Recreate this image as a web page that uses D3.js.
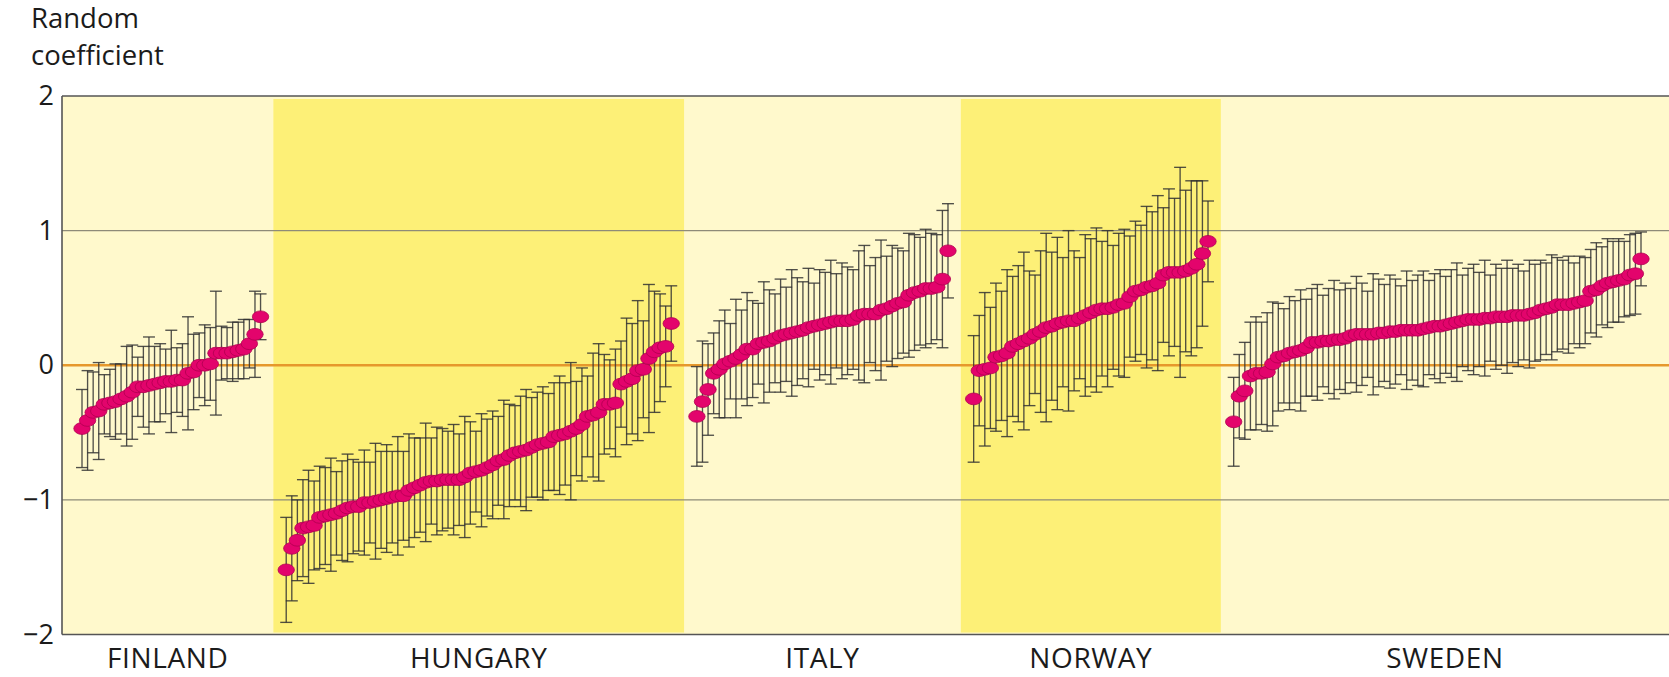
<!DOCTYPE html>
<html>
<head>
<meta charset="utf-8">
<script src="https://cdn.jsdelivr.net/npm/d3@7"></script>
<style>
  body { margin: 0; background: #ffffff; }
  svg { display: block; }
  text { font-family: "Open Sans", "Noto Sans", sans-serif; fill: #1b1b1b; }
</style>
</head>
<body>
<svg id="chart" width="1669" height="677"></svg>
<script>
// ---- data: estimated random coefficients and half-width of their intervals, sorted per country
const countries = ["FINLAND", "HUNGARY", "ITALY", "NORWAY", "SWEDEN"];

const finlandEst = [-0.47,-0.41,-0.35,-0.34,-0.29,-0.28,-0.27,-0.25,-0.23,-0.20,-0.16,-0.16,-0.15,-0.14,-0.13,-0.12,-0.12,-0.11,-0.11,-0.06,-0.05,0.00,0.00,0.01,0.09,0.09,0.09,0.10,0.11,0.12,0.16,0.23,0.36];
const finlandHw  = [0.29,0.37,0.30,0.36,0.22,0.25,0.28,0.26,0.37,0.35,0.22,0.30,0.36,0.28,0.29,0.24,0.38,0.24,0.27,0.42,0.28,0.24,0.30,0.27,0.46,0.20,0.19,0.22,0.21,0.22,0.18,0.32,0.17];

const hungaryEst = [-1.52,-1.36,-1.30,-1.21,-1.20,-1.19,-1.13,-1.12,-1.11,-1.10,-1.08,-1.06,-1.05,-1.05,-1.02,-1.02,-1.01,-1.00,-0.99,-0.98,-0.97,-0.97,-0.93,-0.91,-0.89,-0.87,-0.86,-0.86,-0.85,-0.85,-0.85,-0.85,-0.83,-0.80,-0.79,-0.78,-0.76,-0.74,-0.71,-0.70,-0.67,-0.65,-0.64,-0.63,-0.61,-0.59,-0.58,-0.57,-0.53,-0.52,-0.51,-0.49,-0.47,-0.44,-0.38,-0.37,-0.35,-0.29,-0.29,-0.28,-0.14,-0.12,-0.10,-0.04,-0.03,0.05,0.10,0.13,0.14,0.31];
const hungaryHw  = [0.39,0.39,0.30,0.36,0.42,0.33,0.38,0.36,0.42,0.31,0.37,0.40,0.35,0.33,0.39,0.30,0.43,0.36,0.40,0.34,0.44,0.33,0.42,0.37,0.35,0.44,0.32,0.40,0.38,0.36,0.41,0.34,0.45,0.38,0.30,0.42,0.36,0.40,0.33,0.44,0.38,0.35,0.41,0.45,0.37,0.39,0.42,0.36,0.40,0.44,0.38,0.51,0.35,0.42,0.30,0.46,0.51,0.37,0.33,0.40,0.32,0.47,0.41,0.52,0.36,0.55,0.45,0.40,0.30,0.28];

const italyEst = [-0.38,-0.27,-0.18,-0.06,-0.03,0.01,0.03,0.05,0.08,0.12,0.12,0.16,0.17,0.18,0.20,0.22,0.23,0.24,0.25,0.26,0.28,0.29,0.30,0.31,0.32,0.33,0.33,0.33,0.34,0.37,0.38,0.38,0.38,0.41,0.42,0.44,0.46,0.47,0.52,0.54,0.55,0.57,0.57,0.58,0.64,0.85];
const italyHw  = [0.37,0.45,0.34,0.30,0.36,0.40,0.28,0.44,0.33,0.42,0.36,0.30,0.45,0.38,0.33,0.42,0.35,0.47,0.40,0.36,0.44,0.32,0.41,0.38,0.46,0.35,0.43,0.40,0.37,0.48,0.51,0.36,0.42,0.52,0.39,0.45,0.41,0.38,0.46,0.43,0.40,0.44,0.41,0.39,0.51,0.35];

const norwayEst = [-0.25,-0.04,-0.03,-0.02,0.06,0.07,0.09,0.14,0.16,0.18,0.20,0.23,0.25,0.28,0.29,0.31,0.32,0.33,0.33,0.35,0.37,0.39,0.41,0.42,0.42,0.43,0.45,0.46,0.51,0.55,0.56,0.58,0.59,0.61,0.67,0.69,0.69,0.69,0.70,0.72,0.75,0.83,0.92];
const norwayHw  = [0.47,0.41,0.57,0.45,0.55,0.48,0.62,0.52,0.58,0.66,0.50,0.44,0.60,0.70,0.55,0.64,0.48,0.67,0.52,0.45,0.60,0.55,0.61,0.50,0.58,0.46,0.53,0.55,0.45,0.52,0.48,0.60,0.55,0.65,0.50,0.62,0.55,0.78,0.60,0.65,0.62,0.54,0.30];

const swedenEst = [-0.42,-0.23,-0.19,-0.08,-0.06,-0.06,-0.05,0.01,0.06,0.07,0.09,0.10,0.11,0.13,0.17,0.17,0.18,0.18,0.19,0.19,0.20,0.22,0.23,0.23,0.23,0.23,0.24,0.24,0.25,0.25,0.26,0.26,0.26,0.26,0.27,0.28,0.29,0.29,
                   0.30,0.31,0.32,0.33,0.34,0.34,0.34,0.35,0.35,0.36,0.36,0.36,0.37,0.37,0.37,0.38,0.39,0.41,0.42,0.43,0.45,0.45,0.45,0.46,0.47,0.48,
                   0.55,0.56,0.59,0.61,0.62,0.63,0.64,0.67,0.68,0.79];
const swedenHw  = [0.33,0.31,0.36,0.40,0.42,0.38,0.44,0.46,0.40,0.35,0.42,0.38,0.45,0.36,0.40,0.43,0.34,0.39,0.44,0.37,0.41,0.35,0.43,0.38,0.32,0.45,0.40,0.36,0.42,0.39,0.33,0.44,0.37,0.41,0.43,0.35,0.39,0.42,0.36,0.40,0.44,0.34,0.38,0.41,0.35,0.43,0.32,0.39,0.36,0.42,0.35,0.38,0.33,0.40,0.36,0.37,0.34,0.39,0.35,0.33,0.36,0.30,0.34,0.32,0.31,0.35,0.29,0.33,0.30,0.31,0.28,0.30,0.30,0.20];

const yTicks = [-2, -1, 0, 1, 2];
const yGrid = [-1, 1];
const yTitle = ["Random", "coefficient"];

// ---- layout
const W = 1669, H = 677;
const plot = { left: 62, right: 1669, top: 96, bottom: 634.5 };
const firstX = 82, lastX = 1641;      // centre of the first and last unit
const gapSlots = 4.6;                  // empty unit slots between two countries

const colors = {
  bandLight: "#fff9cc",
  bandBright: "#fdf077",
  grid: "#8e8b78",
  zero: "#e6982c",
  frame: "#555555",
  bar: "#333333",
  dot: "#e3046c",
  dotStroke: "#b0004f"
};

const estimates = [finlandEst, hungaryEst, italyEst, norwayEst, swedenEst];
const halfWidths = [finlandHw, hungaryHw, italyHw, norwayHw, swedenHw];

// slot offset of the first unit of every country
let offset = 0;
const groups = countries.map((name, i) => {
  const n = estimates[i].length;
  const g = { name, index: i, start: offset, n,
    units: estimates[i].map((v, j) => ({ slot: offset + j, est: v, hw: halfWidths[i][j] })) };
  offset += n - 1 + gapSlots;
  return g;
});
const lastSlot = groups[groups.length - 1].start + groups[groups.length - 1].n - 1;

const x = d3.scaleLinear().domain([0, lastSlot]).range([firstX, lastX]);
const y = d3.scaleLinear().domain([-2, 2]).range([plot.bottom, plot.top]);

groups.forEach((g, i) => {
  g.x0 = i === 0 ? plot.left : x(g.start - gapSlots / 2);
  g.x1 = i === groups.length - 1 ? plot.right : x(g.start + g.n - 1 + gapSlots / 2);
});

const svg = d3.select("#chart");

// plot background and country bands
svg.append("rect")
  .attr("x", plot.left).attr("y", plot.top)
  .attr("width", plot.right - plot.left).attr("height", plot.bottom - plot.top)
  .attr("fill", colors.bandLight);

svg.append("g").selectAll("rect")
  .data(groups.filter(g => g.index % 2 === 1))
  .join("rect")
  .attr("x", g => g.x0).attr("width", g => g.x1 - g.x0)
  .attr("y", plot.top + 3).attr("height", plot.bottom - plot.top - 5)
  .attr("fill", colors.bandBright);

// grid lines at +-1 and the zero reference
svg.append("g").selectAll("line")
  .data(yGrid)
  .join("line")
  .attr("x1", plot.left).attr("x2", plot.right)
  .attr("y1", d => y(d)).attr("y2", d => y(d))
  .attr("stroke", colors.grid).attr("stroke-width", 1.2);

svg.append("line")
  .attr("x1", plot.left).attr("x2", plot.right)
  .attr("y1", y(0)).attr("y2", y(0))
  .attr("stroke", colors.zero).attr("stroke-width", 2.4);

// frame: left, top and bottom edges
const frame = svg.append("g").attr("stroke", colors.frame).attr("stroke-width", 1.6);
frame.append("line").attr("x1", plot.left).attr("x2", plot.left).attr("y1", plot.top).attr("y2", plot.bottom);
frame.append("line").attr("x1", plot.left).attr("x2", plot.right).attr("y1", plot.top).attr("y2", plot.top);
frame.append("line").attr("x1", plot.left).attr("x2", plot.right).attr("y1", plot.bottom).attr("y2", plot.bottom);

// y axis labels
const yAxis = d3.axisLeft(y)
  .tickValues(yTicks)
  .tickSize(0)
  .tickPadding(8)
  .tickFormat(d => d < 0 ? "\u2212" + Math.abs(d) : String(d));

const axisG = svg.append("g")
  .attr("transform", `translate(${plot.left},0)`)
  .call(yAxis);
axisG.select(".domain").remove();
axisG.selectAll("text")
  .attr("font-family", "\"Open Sans\", sans-serif")
  .attr("font-size", 27)
  .attr("fill", "#1b1b1b");

// y title, two lines
svg.append("g").selectAll("text")
  .data(yTitle)
  .join("text")
  .attr("x", 31)
  .attr("y", (d, i) => 28 + i * 37)
  .attr("font-size", 27.5)
  .text(d => d);

// error bars
const bars = svg.append("g")
  .attr("stroke", colors.bar).attr("stroke-width", 1.35).attr("stroke-opacity", 0.85)
  .selectAll("g")
  .data(groups.flatMap(g => g.units))
  .join("g");
const cap = 6;
bars.append("line")
  .attr("x1", d => x(d.slot)).attr("x2", d => x(d.slot))
  .attr("y1", d => y(d.est - d.hw)).attr("y2", d => y(d.est + d.hw));
bars.append("line")
  .attr("x1", d => x(d.slot) - cap).attr("x2", d => x(d.slot) + cap)
  .attr("y1", d => y(d.est + d.hw)).attr("y2", d => y(d.est + d.hw));
bars.append("line")
  .attr("x1", d => x(d.slot) - cap).attr("x2", d => x(d.slot) + cap)
  .attr("y1", d => y(d.est - d.hw)).attr("y2", d => y(d.est - d.hw));

// point estimates
svg.append("g")
  .selectAll("ellipse")
  .data(groups.flatMap(g => g.units))
  .join("ellipse")
  .attr("cx", d => x(d.slot)).attr("cy", d => y(d.est))
  .attr("rx", 8.2).attr("ry", 5.9)
  .attr("fill", colors.dot)
  .attr("stroke", colors.dotStroke).attr("stroke-width", 0.8);

// country names under each band
svg.append("g").selectAll("text")
  .data(groups)
  .join("text")
  .attr("x", g => (g.x0 + g.x1) / 2)
  .attr("y", 668)
  .attr("text-anchor", "middle")
  .attr("font-size", 28)
  .attr("letter-spacing", 0.6)
  .text(g => g.name);
</script>
</body>
</html>
